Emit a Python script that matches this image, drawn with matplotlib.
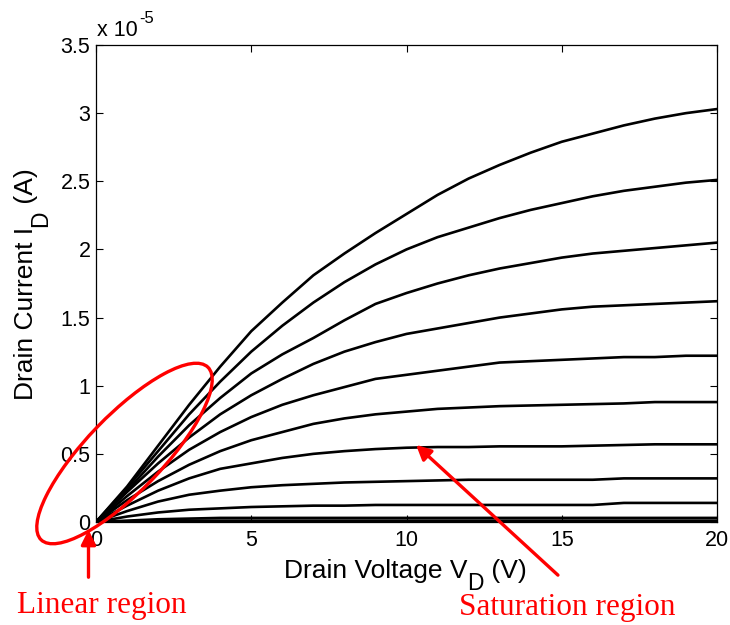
import numpy as np
import matplotlib
matplotlib.use("Agg")
import matplotlib.pyplot as plt
from matplotlib.patches import Ellipse, FancyArrowPatch
from matplotlib.ticker import FuncFormatter
from matplotlib.transforms import IdentityTransform

# drain voltage (V)
vd = [0, 1, 2, 3, 4, 5, 6, 7, 8, 9, 10, 11, 12, 13, 14, 15, 16, 17, 18, 19, 20]

# drain current, in units of 1e-5 A, one list per gate voltage (top to bottom)
id_1 = [0, 0.26, 0.56, 0.86, 1.14, 1.40, 1.61, 1.81, 1.97, 2.12, 2.26, 2.40, 2.52, 2.62, 2.71, 2.79, 2.85, 2.91, 2.96, 3.00, 3.03]
id_2 = [0, 0.25, 0.52, 0.79, 1.03, 1.25, 1.44, 1.61, 1.76, 1.89, 2.00, 2.09, 2.16, 2.23, 2.29, 2.34, 2.39, 2.43, 2.46, 2.49, 2.51]
id_3 = [0, 0.23, 0.48, 0.71, 0.91, 1.09, 1.23, 1.35, 1.48, 1.60, 1.68, 1.75, 1.81, 1.86, 1.90, 1.94, 1.97, 1.99, 2.01, 2.03, 2.05]
id_4 = [0, 0.22, 0.43, 0.62, 0.79, 0.93, 1.05, 1.16, 1.25, 1.32, 1.38, 1.42, 1.46, 1.50, 1.53, 1.56, 1.58, 1.59, 1.60, 1.61, 1.62]
id_5 = [0, 0.19, 0.37, 0.53, 0.66, 0.77, 0.86, 0.93, 0.99, 1.05, 1.08, 1.11, 1.14, 1.17, 1.18, 1.19, 1.20, 1.21, 1.21, 1.22, 1.22]
id_6 = [0, 0.16, 0.30, 0.42, 0.52, 0.60, 0.66, 0.72, 0.76, 0.79, 0.81, 0.83, 0.84, 0.85, 0.855, 0.86, 0.865, 0.87, 0.88, 0.88, 0.88]
id_7 = [0, 0.12, 0.23, 0.32, 0.39, 0.43, 0.47, 0.50, 0.52, 0.535, 0.545, 0.55, 0.55, 0.555, 0.555, 0.555, 0.56, 0.565, 0.57, 0.57, 0.57]
id_8 = [0, 0.08, 0.15, 0.20, 0.23, 0.255, 0.27, 0.28, 0.29, 0.295, 0.30, 0.305, 0.31, 0.31, 0.31, 0.31, 0.31, 0.32, 0.32, 0.32, 0.32]
id_9 = [0, 0.04, 0.07, 0.09, 0.10, 0.11, 0.115, 0.12, 0.12, 0.125, 0.125, 0.125, 0.125, 0.125, 0.125, 0.125, 0.125, 0.14, 0.14, 0.14, 0.14]
id_10 = [0, 0.01, 0.02, 0.025, 0.03, 0.03, 0.03, 0.03, 0.03, 0.03, 0.03, 0.03, 0.03, 0.03, 0.03, 0.03, 0.03, 0.03, 0.03, 0.03, 0.03]
id_11 = [0, 0.005, 0.008, 0.01, 0.01, 0.01, 0.01, 0.01, 0.01, 0.01, 0.01, 0.01, 0.01, 0.01, 0.01, 0.01, 0.01, 0.01, 0.01, 0.01, 0.01]
id_12 = [0, 0, 0, 0, 0, 0, 0, 0, 0, 0, 0, 0, 0, 0, 0, 0, 0, 0, 0, 0, 0]

curves = [id_1, id_2, id_3, id_4, id_5, id_6, id_7, id_8, id_9, id_10, id_11, id_12]

plt.rcParams['font.family'] = ['Liberation Sans', 'DejaVu Sans']

W, H = 730, 625
fig = plt.figure(figsize=(W / 100, H / 100), dpi=100)
ax = fig.add_axes([96 / W, 1 - 522 / H, (717 - 96) / W, (522 - 45) / H])

for c in curves:
    ax.plot(vd, c, color='black', lw=1.9, solid_joinstyle='round')

ax.set_xlim(0, 20)
ax.set_ylim(0, 3.5)
ax.set_xticks([0, 5, 10, 15, 20])
ax.set_yticks([0, 0.5, 1, 1.5, 2, 2.5, 3, 3.5])
ax.yaxis.set_major_formatter(FuncFormatter(lambda v, p: '%g' % v))
ax.tick_params(direction='in', length=5, width=0.8, top=True, right=True,
               labelsize=15.5)
ax.tick_params(axis='x', pad=6)
ax.tick_params(axis='y', pad=4)
for s in ax.spines.values():
    s.set_linewidth(0.9)

renderer = fig.canvas.get_renderer()
pix = IdentityTransform()


def text_width(s, size):
    t = fig.text(0, 0, s, fontsize=size)
    w = t.get_window_extent(renderer).width
    t.remove()
    return w


def rich_label(x, y, parts, vertical=False):
    # parts: (string, fontsize, baseline drop in px); x, y = centre of the run (px from top-left)
    widths = [text_width(s, fs) for s, fs, d in parts]
    pos = -sum(widths) / 2
    for (s, fs, d), w in zip(parts, widths):
        if vertical:
            fig.text(x + d, H - y + pos, s, fontsize=fs, rotation=90, rotation_mode='anchor',
                     ha='left', va='baseline', transform=pix)
        else:
            fig.text(x + pos, H - y - d, s, fontsize=fs, ha='left', va='baseline',
                     transform=pix)
        pos += w


# axis labels with MATLAB style subscripts
rich_label(405, 578, [('Drain Voltage V', 19, 0), ('D', 16.5, 12), (' (V)', 19, 0)])
rich_label(33, 284, [('Drain Current I', 19, 0), ('D', 16.5, 14), (' (A)', 19, 0)], vertical=True)

# exponent label
fig.text(97, H - 36, 'x 10', fontsize=15.5, ha='left', va='baseline', transform=pix)
fig.text(97 + text_width('x 10', 15.5) + 1, H - 23, '-5', fontsize=12, ha='left',
         va='baseline', transform=pix)

# annotations, placed in inches from the figure's bottom-left corner
tr = fig.dpi_scale_trans
ell = Ellipse((1.245, 6.25 - 4.535), width=2.40, height=0.76, angle=46,
              transform=tr, fill=False, edgecolor='red', lw=2.4, clip_on=False)
fig.add_artist(ell)

arr1 = FancyArrowPatch((0.885, 6.25 - 5.80), (0.885, 6.25 - 5.27), transform=tr,
                       arrowstyle='-|>', mutation_scale=22, color='red', lw=2.4)
fig.add_artist(arr1)
arr2 = FancyArrowPatch((5.60, 6.25 - 5.77), (4.14, 6.25 - 4.43), transform=tr,
                       arrowstyle='-|>', mutation_scale=22, color='red', lw=2.4)
fig.add_artist(arr2)

fig.text(102, H - 613, 'Linear region', color='red', family='Liberation Serif',
         fontsize=22.5, ha='center', va='baseline', transform=pix)
fig.text(567, H - 615, 'Saturation region', color='red', family='Liberation Serif',
         fontsize=22.5, ha='center', va='baseline', transform=pix)

fig.savefig('out.png', dpi=100)
